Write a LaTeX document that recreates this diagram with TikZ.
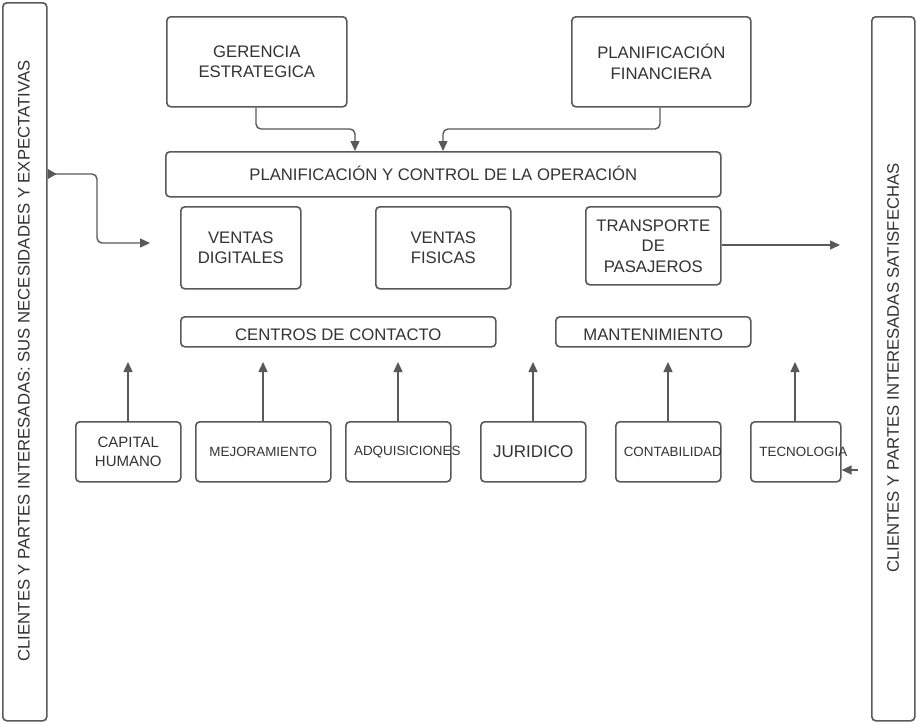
\documentclass[tikz,border=0pt]{standalone}
\usepackage{fontspec}
\setmainfont{Liberation Sans}
\usetikzlibrary{arrows.meta}
\definecolor{linec}{HTML}{595959}
\definecolor{textc}{HTML}{333333}
\newcommand{\shiftdown}[2]{\vphantom{X}\smash{\raisebox{-#1}{#2}}}
\begin{document}
\begin{tikzpicture}[x=1pt,y=-1pt,
  box/.style={draw=linec,line width=1.6pt,rounded corners=4pt,fill=white,text=textc,align=center,inner sep=0pt,anchor=north west},
  conn/.style={draw=linec,line width=1.4pt,-{Triangle[length=10pt,width=9pt]},rounded corners=5pt},
  f15/.style={font=\fontsize{16.7}{20.5}\selectfont},
  f13/.style={font=\fontsize{13.4}{16}\selectfont},
  f14/.style={font=\fontsize{15}{19}\selectfont},
  f16/.style={font=\fontsize{17}{20}\selectfont}]
\useasboundingbox (0,0) rectangle (917,723);
% side panels
\node[box,minimum width=44pt,minimum height=718pt] (lp) at (2,2) {};
\node[f15,text=textc,rotate=90] (lpt) at (24,361) {CLIENTES Y PARTES INTERESADAS: SUS NECESIDADES Y EXPECTATIVAS};
\node[box,minimum width=43pt,minimum height=704pt] (rp) at (871,16) {};
\node[f15,text=textc,rotate=90] (rpt) at (893,368) {CLIENTES Y PARTES INTERESADAS SATISFECHAS};
% top boxes
\node[box,f15,minimum width=180pt,minimum height=90pt] (ger) at (166,16) {GERENCIA\\ESTRATEGICA};
\node[box,f15,minimum width=179pt,minimum height=90pt] (pf) at (571,16) {PLANIFICACIÓN\\FINANCIERA};
\node[box,f15,minimum width=555pt,minimum height=45pt] (pc) at (165,151) {\shiftdown{0pt}{PLANIFICACIÓN Y CONTROL DE LA OPERACIÓN}};
% middle
\node[box,f15,minimum width=120pt,minimum height=82pt] (vd) at (180,206) {VENTAS\\DIGITALES};
\node[box,f15,minimum width=135pt,minimum height=82pt] (vf) at (375,206) {VENTAS\\FISICAS};
\node[box,f15,minimum width=135pt,minimum height=78pt] (tp) at (585,206) {TRANSPORTE\\DE\\PASAJEROS};
\node[box,f15,minimum width=315pt,minimum height=30pt] (cc) at (180,316) {\shiftdown{2.5pt}{CENTROS DE CONTACTO}};
\node[box,f15,minimum width=195pt,minimum height=30pt] (mt) at (555,316) {\shiftdown{2.5pt}{MANTENIMIENTO}};
% bottom
\node[box,f14,minimum width=105pt,minimum height=60pt] (ch) at (75,421) {CAPITAL\\HUMANO};
\node[box,f13,minimum width=135pt,minimum height=60pt] (mj) at (195,421) {\makebox[0pt]{MEJORAMIENTO}};
\node[box,f13,minimum width=105pt,minimum height=60pt] (ad) at (345,421) {\makebox[0pt]{\hspace{18pt}ADQUISICIONES}};
\node[box,f16,minimum width=105pt,minimum height=60pt] (ju) at (480,421) {JURIDICO};
\node[box,f13,minimum width=105pt,minimum height=60pt] (co) at (615,421) {\makebox[0pt]{\hspace{9pt}CONTABILIDAD}};
\node[box,f13,minimum width=90pt,minimum height=60pt] (te) at (750,421) {\makebox[0pt]{\hspace{15pt}TECNOLOGIA}};
% coordinates
\coordinate (a1) at (150,243);
\coordinate (a2) at (840,245);
\coordinate (a3) at (858,470);
\foreach \n/\x in {ch/128,mj/263,ad/398,ju/533,co/668,te/795}{
  \coordinate (\n top) at (\x,421);
  \coordinate (\n tip) at (\x,362);
  \draw[conn] (\n top) -- (\n tip);
}
% connectors
\draw[conn] (ger.south west) ++(90,0) |- (355,129) -- (pc.north west -| 355,0);
\draw[conn] (pf.south west) ++(89,0) |- (443,129) -- (pc.north west -| 443,0);
\draw[conn,{Triangle[reversed,length=9pt,width=10pt]}-{Triangle[length=10pt,width=9pt]}] (lp.north east |- 0,174) -| (97,243) -- (a1);
\draw[conn] (tp.east |- 0,245) -- (a2);
\draw[conn,rounded corners=0pt] (a3) -- (te.south east |- 0,470);
\end{tikzpicture}
\end{document}
